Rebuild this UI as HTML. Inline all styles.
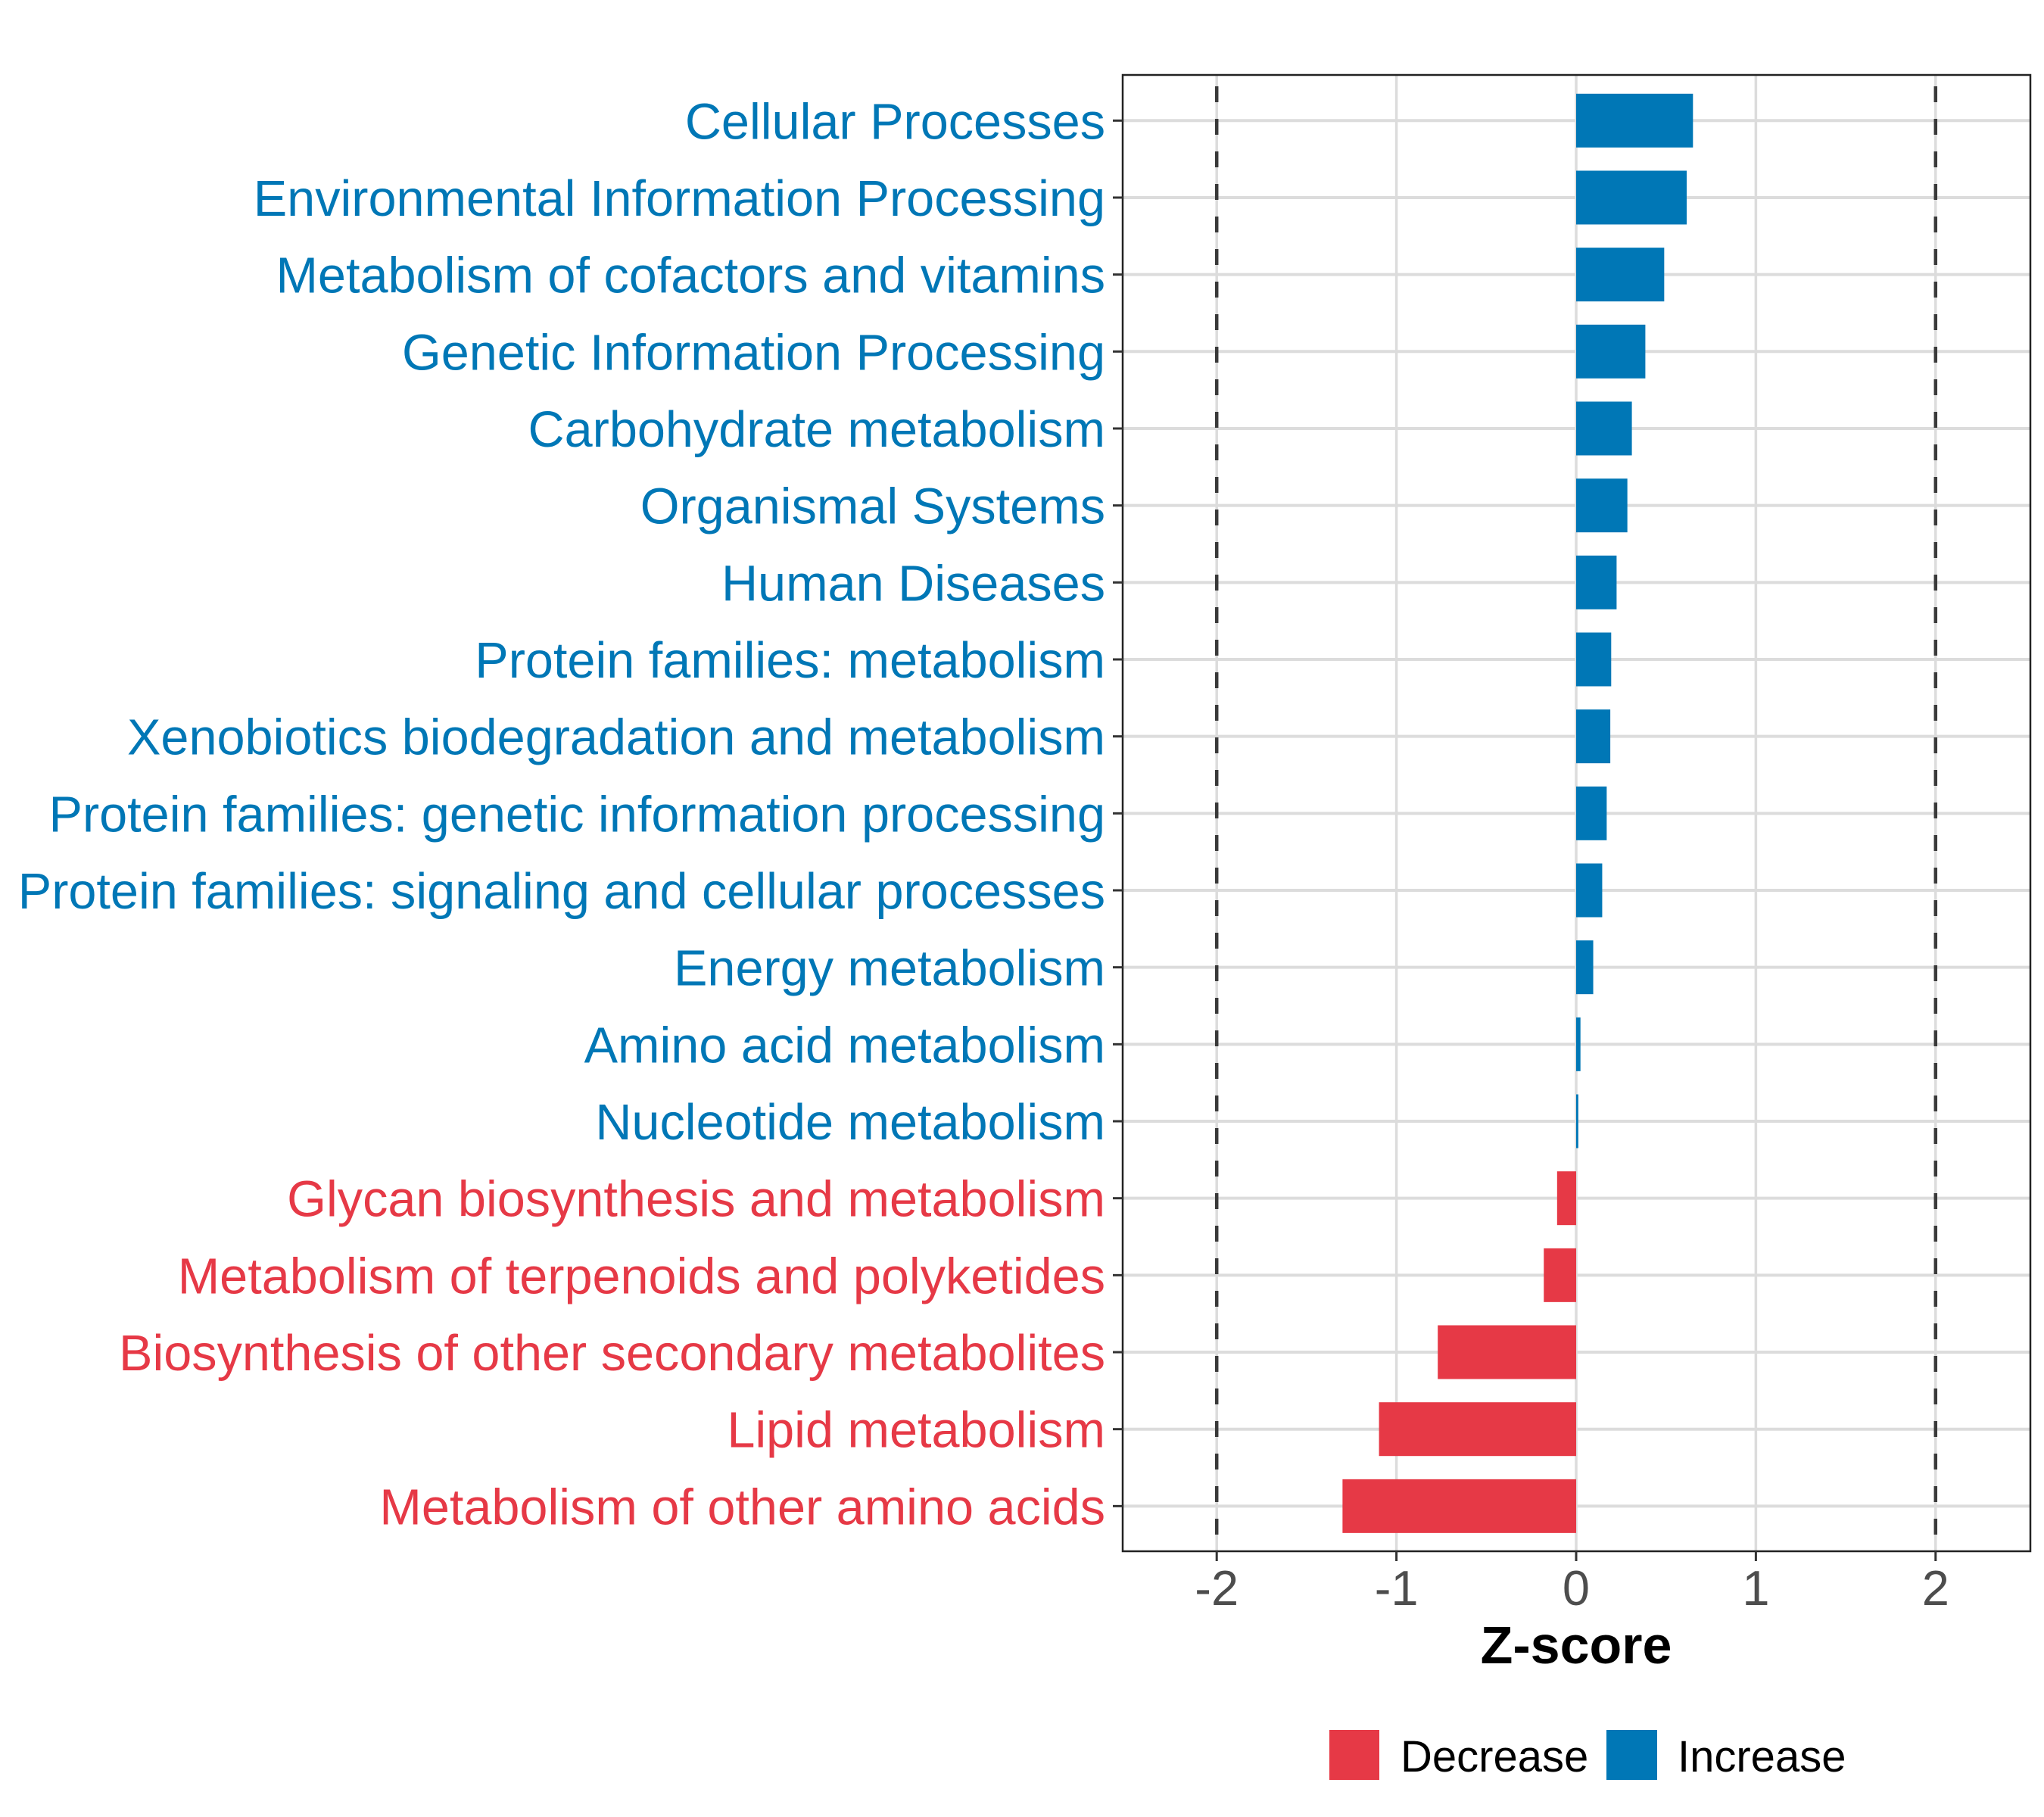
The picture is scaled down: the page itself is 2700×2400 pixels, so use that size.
<!DOCTYPE html>
<html><head><meta charset="utf-8"><style>
html,body{margin:0;padding:0;background:#fff;}
svg{display:block;font-family:"Liberation Sans",Arial,sans-serif;}
</style></head><body>
<svg id="chart" width="2700" height="2400" viewBox="0 0 2700 2400">
<rect x="0" y="0" width="2700" height="2400" fill="#fff"/>
<g id="grid"></g>
<g id="bars"></g>
<g id="refs"></g>
<rect x="1483" y="99" width="1199" height="1950" fill="none" stroke="#222" stroke-width="2.5"/>
<g id="ylabels"></g>
<g id="xticks"></g>
<text x="2082" y="2197" text-anchor="middle" font-size="70" font-weight="bold" fill="#000">Z-score</text>
<g>
<g>
<rect x="1756" y="2285" width="66" height="66" fill="#E63946"/>
<text x="1850" y="2340" font-size="58" fill="#000">Decrease</text>
</g>
<g>
<rect x="2122" y="2285" width="67" height="66" fill="#0077B6"/>
<text x="2216" y="2340" font-size="58" fill="#000">Increase</text>
</g>
</g>
</svg>
<script>
const categories = ["Cellular Processes","Environmental Information Processing","Metabolism of cofactors and vitamins","Genetic Information Processing","Carbohydrate metabolism","Organismal Systems","Human Diseases","Protein families: metabolism","Xenobiotics biodegradation and metabolism","Protein families: genetic information processing","Protein families: signaling and cellular processes","Energy metabolism","Amino acid metabolism","Nucleotide metabolism","Glycan biosynthesis and metabolism","Metabolism of terpenoids and polyketides","Biosynthesis of other secondary metabolites","Lipid metabolism","Metabolism of other amino acids"];
const zscores = [0.65,0.615,0.49,0.385,0.31,0.285,0.225,0.195,0.19,0.17,0.145,0.095,0.024,0.012,-0.106,-0.18,-0.77,-1.097,-1.30];
const xTicks = [-2,-1,0,1,2];
const xTickLabels = ["-2","-1","0","1","2"];
const refValues = [-2,2];

const NS="http://www.w3.org/2000/svg";
const x0=2082, unit=237.4, yTop=159.3, step=101.67, barH=71;
function xs(v){return x0+v*unit;}
function ys(i){return yTop+i*step;}
const BLUE="#0077B6", RED="#E63946";
function mk(tag,attrs,parent){const e=document.createElementNS(NS,tag);for(const k in attrs)e.setAttribute(k,attrs[k]);parent.appendChild(e);return e;}
const grid=document.getElementById('grid'), bars=document.getElementById('bars'), refs=document.getElementById('refs'), yl=document.getElementById('ylabels'), xt=document.getElementById('xticks');
categories.forEach((c,i)=>{
  const l=mk('line',{x1:1483,x2:2682,y1:ys(i),y2:ys(i),stroke:"#dcdcdc","stroke-width":4},grid);
  
  
});
xTicks.forEach((v,i)=>{
  const l=mk('line',{x1:xs(v),x2:xs(v),y1:99,y2:2049,stroke:"#dcdcdc","stroke-width":3.5},grid);
  
  
  const t=mk('line',{x1:xs(v),x2:xs(v),y1:2049,y2:2062,stroke:"#333","stroke-width":3},xt);
  
  
  const tx=mk('text',{x:xs(v),y:2120,"text-anchor":"middle","font-size":65,fill:"#4d4d4d"},xt);
  tx.textContent=xTickLabels[i];
  
  
});
zscores.forEach((v,i)=>{
  const a=Math.min(xs(0),xs(v)), w=Math.abs(xs(v)-xs(0));
  const r=mk('rect',{x:a,y:ys(i)-barH/2,width:w,height:barH,fill:v>=0?BLUE:RED},bars);
  
  
});
refValues.forEach(v=>{
  const l=mk('line',{x1:xs(v),x2:xs(v),y1:99,y2:2049,stroke:"#3a3a3a","stroke-width":4.5,"stroke-dasharray":"21 22","stroke-dashoffset":"-15"},refs);
  
  
});
categories.forEach((c,i)=>{
  const col=zscores[i]>=0?BLUE:RED;
  const t=mk('line',{x1:1470,x2:1483,y1:ys(i),y2:ys(i),stroke:"#333","stroke-width":3},yl);
  
  
  const tx=mk('text',{x:1460,y:ys(i)+24,"text-anchor":"end","font-size":66.6,fill:col},yl);
  tx.textContent=c;
  
  
});
</script>
</body></html>
